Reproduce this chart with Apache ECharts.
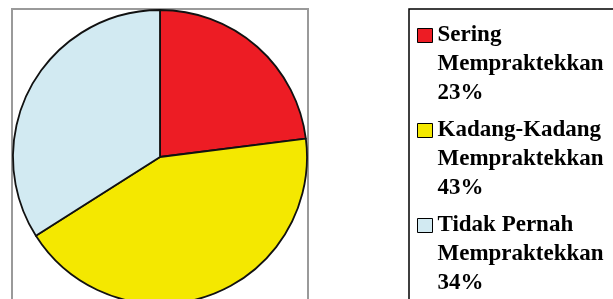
<!DOCTYPE html>
<html>
<head>
<meta charset="utf-8">
<script src="https://cdn.jsdelivr.net/npm/echarts@6/dist/echarts.min.js"></script>
<style>
  html, body { margin: 0; padding: 0; background: #fff; }
  #chart { width: 613px; height: 299px; }
</style>
</head>
<body>
<div id="chart"></div>
<script>
var firstLines = ['Sering', 'Kadang-Kadang', 'Tidak Pernah']
var categories = ['Sering Mempraktekkan', 'Kadang-Kadang Mempraktekkan', 'Tidak Pernah Mempraktekkan']
var values = [23, 43, 34]
var colors = ['#ED1C24', '#F4E800', '#D2EAF2']

var chart = echarts.init(document.getElementById('chart'))

var pieData = categories.map(function (c, i) {
  return { name: c, value: values[i], itemStyle: { color: colors[i] } }
})

var option = {
  animation: false,
  graphic: [
    {
      type: 'rect',
      shape: { x: 12, y: 9, width: 296, height: 310 },
      style: { fill: 'none', stroke: '#9a9a9a', lineWidth: 2 },
      z: 0
    },
    {
      type: 'rect',
      shape: { x: 409, y: 9, width: 220, height: 310 },
      style: { fill: 'none', stroke: '#000', lineWidth: 1.5 },
      z: 0
    }
  ],
  legend: {
    orient: 'vertical',
    left: 412,
    top: -42,
    height: 1000,
    itemWidth: 15,
    itemHeight: 14,
    itemGap: -50,
    icon: 'rect',
    itemStyle: { borderColor: '#000', borderWidth: 1 },
    formatter: function (name) {
      var i = categories.indexOf(name)
      // two blank lines so the first text line sits level with the marker
      return '\n\n' + firstLines[i] + '\nMempraktekkan\n' + values[i] + '%'
    },
    textStyle: {
      fontFamily: 'Liberation Serif',
      fontWeight: 'bold',
      fontSize: 23,
      lineHeight: 29,
      color: '#000'
    }
  },
  series: [
    {
      type: 'pie',
      center: [160, 157],
      radius: 147,
      startAngle: 90,
      clockwise: true,
      label: { show: false },
      labelLine: { show: false },
      emphasis: { disabled: true },
      itemStyle: { borderColor: '#111', borderWidth: 1.8 },
      data: pieData
    }
  ]
}

chart.setOption(option)
</script>
</body>
</html>
